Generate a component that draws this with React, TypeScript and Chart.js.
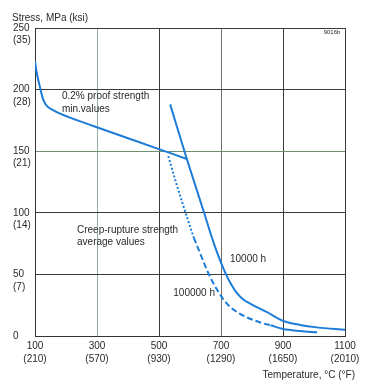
import React, { useEffect, useRef } from "react";
import { Chart, registerables } from "chart.js";

Chart.register(...registerables);

// ---- tick labels ----
const xTickC = [100, 300, 500, 700, 900, 1100];
const xTickF = ["(210)", "(570)", "(930)", "(1290)", "(1650)", "(2010)"];
const yTickMPa = [0, 50, 100, 150, 200, 250];
const yTickKsi = ["", "(7)", "(14)", "(21)", "(28)", "(35)"];

// ---- 0.2% proof strength, min. values ----
const proofT = [100, 105, 116, 127, 138, 154, 181, 288, 493, 592];
const proofS = [223, 214.5, 202, 191.6, 186.7, 184, 180.5, 170.5, 152.3, 143.5];

// ---- creep-rupture strength 10000 h ----
const c10kT = [536, 590, 646, 670, 690, 705, 718, 735, 751, 770, 794, 847, 901, 955, 1009, 1100];
const c10kS = [188, 143.5, 99.6, 80.4, 66, 56.5, 49, 41, 35, 30, 26.3, 19.5, 12.2, 9, 7, 5];

// ---- creep-rupture strength 100000 h (dotted / dashed / solid parts) ----
const c100kDotT = [530, 552, 578, 600, 612];
const c100kDotS = [146, 127, 106, 89, 80];
const c100kDashT = [612, 632, 654, 675, 707, 730, 751, 780, 804, 830, 860];
const c100kDashS = [80, 67.5, 54, 43, 30, 23.5, 19.5, 15.5, 13, 10.7, 8.7];
const c100kSolidT = [860, 901, 955, 1010];
const c100kSolidS = [8.7, 5.6, 4, 3];

const FONT = "'Liberation Sans', Arial, Helvetica, sans-serif";
const BLUE = "rgb(28,124,216)";
const TEXT = "#2a2a2a";

const pts = (xs: number[], ys: number[]) => xs.map((x, i) => ({ x, y: ys[i] }));

const textPlugin = {
  id: "textPlugin",
  afterDraw(chart: any) {
    const { ctx, scales } = chart;
    const xs = scales.x;
    const ys = scales.y;
    const px = (v: number) => xs.getPixelForValue(v);
    const py = (v: number) => ys.getPixelForValue(v);
    ctx.save();
    ctx.fillStyle = TEXT;
    ctx.textBaseline = "middle";
    ctx.font = `10px ${FONT}`;
    ctx.textAlign = "left";
    ctx.fillText("0.2% proof strength", px(187), py(194.2));
    ctx.fillText("min.values", px(187), py(184));
    ctx.fillText("Creep-rupture strength", px(235.5), py(86));
    ctx.fillText("average values", px(235.5), py(76.5));
    ctx.fillText("10000 h", px(729), py(62.3));
    ctx.fillText("100000 h", px(546), py(34.7));
    // axis titles
    ctx.fillText("Stress, MPa (ksi)", 12, 18);
    ctx.textAlign = "right";
    ctx.fillText("Temperature, \u00B0C (\u00B0F)", 355, 375);
    ctx.font = `6px ${FONT}`;
    ctx.fillText("9016b", px(1085), py(246.5));
    ctx.restore();
  },
};

const bgPlugin = {
  id: "bgPlugin",
  beforeDraw(chart: any) {
    const { ctx, width, height } = chart;
    ctx.save();
    ctx.fillStyle = "#ffffff";
    ctx.fillRect(0, 0, width, height);
    ctx.restore();
  },
};

export default function App() {
  const ref = useRef<HTMLCanvasElement | null>(null);

  useEffect(() => {
    document.body.style.margin = "0";
    const canvas = ref.current;
    if (!canvas) return;
    const line = (data: any, dash: number[] = []) => ({
      data,
      borderColor: BLUE,
      backgroundColor: BLUE,
      borderWidth: 2,
      borderDash: dash,
      pointRadius: 0,
      fill: false,
      cubicInterpolationMode: "monotone" as const,
    });
    const chart = new Chart(canvas, {
      type: "line",
      data: {
        datasets: [
          line(pts(proofT, proofS)),
          line(pts(c10kT, c10kS)),
          line(pts(c100kDotT, c100kDotS), [2, 2]),
          line(pts(c100kDashT, c100kDashS), [6, 3]),
          line(pts(c100kSolidT, c100kSolidS)),
        ],
      },
      options: {
        animation: false,
        responsive: false,
        devicePixelRatio: 1,
        layout: { padding: { left: 13, top: 28, right: 25, bottom: 0 } },
        plugins: {
          legend: { display: false },
          tooltip: { enabled: false },
          title: { display: false },
        },
        scales: {
          x: {
            type: "linear",
            min: 100,
            max: 1100,
            afterFit: (s: any) => {
              s.height = 52;
            },
            border: { display: true, color: "#333", width: 1 },
            grid: {
              drawTicks: false,
              lineWidth: 1,
              color: (c: any) => {
                const v = c.tick && c.tick.value;
                if (v === 300) return "#8fb0a0";
                if (v === 700) return "#707070";
                return "#3a3a3a";
              },
            },
            ticks: {
              stepSize: 200,
              autoSkip: false,
              maxRotation: 0,
              padding: 4,
              color: TEXT,
              font: { family: FONT, size: 10, lineHeight: 1.25 },
              callback: (v: any) => {
                const i = xTickC.indexOf(Number(v));
                return i < 0 ? "" : [String(xTickC[i]), xTickF[i]];
              },
            },
          },
          y: {
            type: "linear",
            min: 0,
            max: 250,
            afterFit: (s: any) => {
              s.width = 22;
            },
            border: { display: true, color: "#333", width: 1 },
            grid: {
              drawTicks: false,
              lineWidth: 1,
              color: (c: any) => {
                const v = c.tick && c.tick.value;
                if (v === 150) return "#6e9070";
                return "#3a3a3a";
              },
            },
            ticks: {
              stepSize: 50,
              crossAlign: "far",
              color: TEXT,
              font: { family: FONT, size: 10, lineHeight: 1.25 },
              callback: (v: any) => {
                const i = yTickMPa.indexOf(Number(v));
                if (i < 0) return "";
                if (yTickKsi[i] === "") return [String(yTickMPa[i])];
                return ["", String(yTickMPa[i]), yTickKsi[i]];
              },
            },
          },
        },
      },
      plugins: [bgPlugin, textPlugin],
    });
    return () => chart.destroy();
  }, []);

  return (
    <div style={{ position: "absolute", left: 0, top: 0, width: 370, height: 388 }}>
      <canvas ref={ref} width={370} height={388} style={{ display: "block" }} />
    </div>
  );
}
